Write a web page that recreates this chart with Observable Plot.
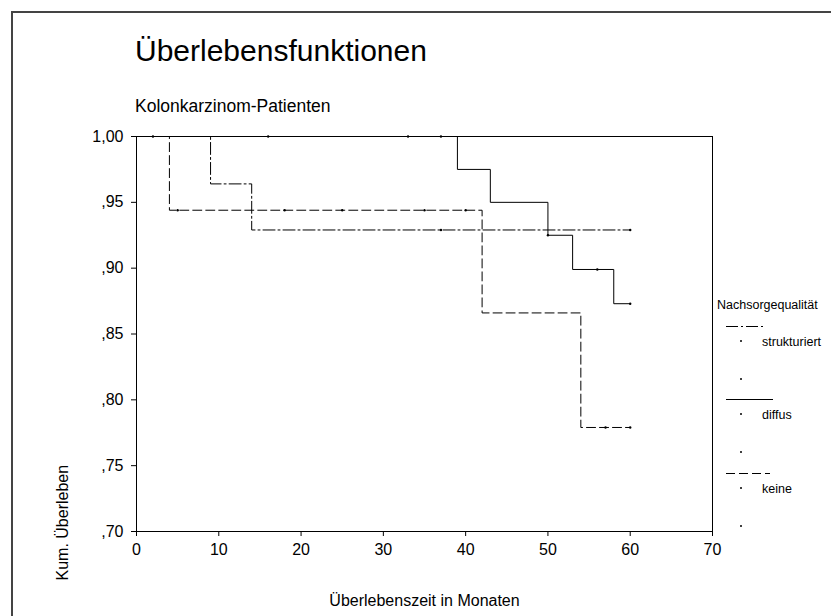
<!DOCTYPE html>
<html><head><meta charset="utf-8">
<script src="https://cdn.jsdelivr.net/npm/d3@7"></script>
<script src="https://cdn.jsdelivr.net/npm/@observablehq/plot@0.6"></script>
<style>
body{margin:0;background:#fff;font-family:"Liberation Sans",Arial,sans-serif;}
#wrap{position:relative;width:831px;height:616px;overflow:hidden;background:#fff;}
#wrap > svg{position:absolute;left:0;top:0;}
#border{position:absolute;left:11px;top:11px;width:900px;height:700px;border-left:2px solid #444;border-top:2px solid #444;}
</style></head>
<body>
<div id="wrap"><div id="border"></div></div>
<script>
// ---- data ----
const groups = ["strukturiert", "diffus", "keine"];
const xTicks = [0, 10, 20, 30, 40, 50, 60, 70];
const yTicks = [0.70, 0.75, 0.80, 0.85, 0.90, 0.95, 1.00];
const yTickLabels = [",70", ",75", ",80", ",85", ",90", ",95", "1,00"];

const strukturiertTime = [0, 9, 14, 60];
const strukturiertSurv = [1.000, 0.964, 0.929, 0.929];
const diffusTime = [0, 39, 43, 50, 53, 58, 60];
const diffusSurv = [1.000, 0.975, 0.950, 0.925, 0.899, 0.873, 0.873];
const keineTime = [0, 4, 42, 54, 60];
const keineSurv = [1.000, 0.944, 0.866, 0.779, 0.779];

// censored observations
const strukturiertCensTime = [2, 37, 60];
const strukturiertCensSurv = [1.000, 0.929, 0.929];
const diffusCensTime = [16, 33, 37, 50, 56, 60];
const diffusCensSurv = [1.000, 1.000, 1.000, 0.925, 0.899, 0.873];
const keineCensTime = [5, 18, 25, 35, 40, 57, 60];
const keineCensSurv = [0.944, 0.944, 0.944, 0.944, 0.944, 0.779, 0.779];

const dashes = {strukturiert: "12,3,2,3", diffus: null, keine: "9,4"};

const series = {
  strukturiert: strukturiertTime.map((t, i) => ({t, s: strukturiertSurv[i]})),
  diffus: diffusTime.map((t, i) => ({t, s: diffusSurv[i]})),
  keine: keineTime.map((t, i) => ({t, s: keineSurv[i]}))
};
const cens = [
  ...strukturiertCensTime.map((t, i) => ({t, s: strukturiertCensSurv[i]})),
  ...diffusCensTime.map((t, i) => ({t, s: diffusCensSurv[i]})),
  ...keineCensTime.map((t, i) => ({t, s: keineCensSurv[i]}))
];

const lineMarks = groups.map(g => Plot.line(series[g], {
  x: "t", y: "s", curve: "step-after", stroke: "#000", strokeWidth: 1,
  strokeDasharray: dashes[g] || undefined
}));

const chart = Plot.plot({
  width: 831, height: 616,
  marginLeft: 136, marginRight: 119, marginTop: 136, marginBottom: 85,
  style: {fontFamily: "'Liberation Sans', Arial, sans-serif", fontSize: "16px", color: "#000", background: "transparent", overflow: "visible"},
  x: {domain: [0, 70]},
  y: {domain: [0.70, 1.00]},
  marks: [
    Plot.frame({stroke: "#000", strokeWidth: 1}),
    Plot.axisX({ticks: xTicks, tickFormat: d => String(d), tickSize: 5, tickPadding: 7,
      label: "Überlebenszeit in Monaten", labelAnchor: "center", labelOffset: 74, labelArrow: "none"}),
    Plot.axisY({ticks: yTicks, tickFormat: d => yTickLabels[yTicks.findIndex(v => Math.abs(v - d) < 1e-9)],
      tickSize: 5, tickPadding: 8, label: null}),
    Plot.text(["Kum. Überleben"], {frameAnchor: "bottom-left", rotate: -90, textAnchor: "start",
      lineAnchor: "middle", dx: -74, dy: 49, fontSize: 16}),
    ...lineMarks,
    Plot.dot(cens, {x: "t", y: "s", r: 1.2, fill: "#000", stroke: null})
  ]
});
document.getElementById("wrap").appendChild(chart);

// ---- title, subtitle, legend overlay ----
const ns = "http://www.w3.org/2000/svg";
const ov = document.createElementNS(ns, "svg");
ov.setAttribute("width", 831); ov.setAttribute("height", 616);
ov.style.fontFamily = "'Liberation Sans', Arial, sans-serif";
function txt(x, y, s, size) {
  const e = document.createElementNS(ns, "text");
  e.setAttribute("x", x); e.setAttribute("y", y); e.setAttribute("font-size", size);
  e.setAttribute("fill", "#000"); e.textContent = s; ov.appendChild(e);
}
function ln(x1, x2, y, dash) {
  const e = document.createElementNS(ns, "line");
  e.setAttribute("x1", x1); e.setAttribute("x2", x2); e.setAttribute("y1", y); e.setAttribute("y2", y);
  e.setAttribute("stroke", "#000"); e.setAttribute("stroke-width", 1);
  if (dash) e.setAttribute("stroke-dasharray", dash);
  ov.appendChild(e);
}
function dot(x, y) {
  const e = document.createElementNS(ns, "circle");
  e.setAttribute("cx", x); e.setAttribute("cy", y); e.setAttribute("r", 1); e.setAttribute("fill", "#000");
  ov.appendChild(e);
}
txt(135, 61, "Überlebensfunktionen", 30);
txt(135, 112, "Kolonkarzinom-Patienten", 17.5);
txt(717, 309, "Nachsorgequalität", 12.5);
const legendY = [326, 399, 473];
const legendX2 = [766, 773, 770];
groups.forEach((g, i) => {
  const y = legendY[i];
  ln(726, legendX2[i], y + 0.5, dashes[g]);
  dot(741, y + 15);
  txt(762, y + 19.5, g, 12.5);
  dot(741, y + 53);
});
document.getElementById("wrap").appendChild(ov);
</script>
</body></html>
